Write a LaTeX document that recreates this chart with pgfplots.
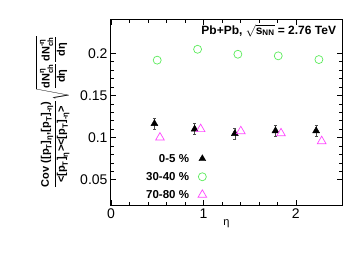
\documentclass[border=0pt]{standalone}
\usepackage{amsmath}
\usepackage{fontspec}
\setmainfont{Liberation Sans}
\usepackage{pgfplots}
\pgfplotsset{compat=1.18}
\definecolor{mygreen}{RGB}{90,235,90}
\definecolor{mypink}{RGB}{255,70,255}
\newcommand{\bt}[1]{\textbf{#1}}
\begin{document}
\begin{tikzpicture}
\begin{axis}[
  name=ax,
  scale only axis,
  width=231pt, height=185.5pt,
  xmin=0, xmax=2.5, ymin=0.02, ymax=0.24,
  xtick={0,1,2}, ytick={0.05,0.1,0.15,0.2},
  minor x tick num=4, minor y tick num=4,
  tick align=inside,
  major tick length=5.5pt, minor tick length=3pt,
  axis line style={line width=1pt},
  every tick/.style={black, line width=0.6pt},
  tick label style={font=\fontsize{14}{15}\selectfont},
  /pgf/number format/assume math mode=true,
  yticklabel style={/pgf/number format/fixed},
  xlabel={η}, xlabel style={font=\fontsize{11}{12}\selectfont, yshift=6pt},
  ylabel={\fontsize{11}{13}\selectfont$\displaystyle \frac{\bt{Cov ([p}_{\bt{T}}\bt{]}_{\bt{η}}\bt{,[p}_{\bt{T}}\bt{]}_{\bt{-η}}\bt{)}}{\bt{<[p}_{\bt{T}}\bt{]}_{\bt{η}}\bt{><[p}_{\bt{T}}\bt{]}_{\bt{-η}}\bt{>}}\sqrt{\frac{\bt{dN}^{\bt{η}}_{\bt{ch}}}{\bt{dη}}\frac{\bt{dN}^{\bt{-η}}_{\bt{ch}}}{\bt{dη}}}$},
  ylabel style={yshift=4pt},
  legend style={draw=none, fill=none, font=\bfseries\fontsize{11.5}{13}\selectfont,
    at={(axis cs:1.07,0.0855)}, anchor=north east, row sep=4.5pt, column sep=7pt},
  legend cell align=right,
  legend plot pos=right,
  clip=false,
]
\addplot[only marks, mark=triangle*, mark size=4pt, black,
  error bars/.cd, y dir=both, y explicit, error bar style={black!70, line width=0.6pt},
  error mark options={rotate=90, mark size=1.5pt, black!70}]
  coordinates {
  (0.47,0.1165) +- (0,0.0065)
  (0.905,0.110) +- (0,0.0065)
  (1.34,0.1047) +- (0,0.0065)
  (1.78,0.108) +- (0,0.0065)
  (2.22,0.108) +- (0,0.0065)
  };
\addlegendentry{0-5 \%}
\addplot[only marks, mark=o, mark size=4pt, mygreen, mark options={line width=0.7pt}]
  coordinates {
  (0.50,0.1918)
  (0.937,0.2047)
  (1.373,0.1988)
  (1.81,0.1969)
  (2.25,0.1925)
  };
\addlegendentry{30-40 \%}
\addplot[only marks, mark=triangle, mark size=5pt, mypink, mark options={line width=0.7pt}]
  coordinates {
  (0.53,0.100)
  (0.97,0.110)
  (1.405,0.1075)
  (1.84,0.105)
  (2.28,0.0957)
  };
\addlegendentry{70-80 \%}
\node[anchor=east, font=\bfseries\fontsize{12}{14}\selectfont, inner sep=0pt] at (rel axis cs:0.975,0.938) {Pb+Pb, $\sqrt{\bt{s}_{\bt{NN}}}$ = 2.76 TeV};
\end{axis}
\pgfresetboundingbox
\path[use as bounding box] ([shift={(-111pt,-61pt)}]ax.south west) rectangle ([shift={(244pt,205pt)}]ax.south west);
\end{tikzpicture}
\end{document}
